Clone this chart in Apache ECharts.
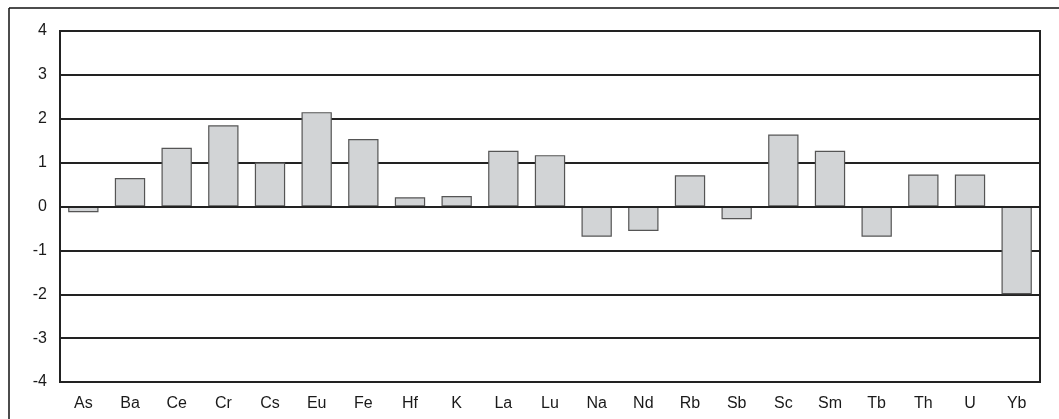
<!DOCTYPE html>
<html>
<head>
<meta charset="utf-8">
<script src="https://cdn.jsdelivr.net/npm/echarts@6/dist/echarts.min.js"></script>
<style>
html,body{margin:0;padding:0;background:#fff;}
#chart{width:1059px;height:419px;}
</style>
</head>
<body>
<div id="chart"></div>
<script>
const categories = ['As','Ba','Ce','Cr','Cs','Eu','Fe','Hf','K','La','Lu','Na','Nd','Rb','Sb','Sc','Sm','Tb','Th','U','Yb'];
const values = [-0.13,0.65,1.34,1.85,1.0,2.15,1.54,0.21,0.24,1.27,1.17,-0.69,-0.56,0.71,-0.29,1.64,1.27,-0.69,0.73,0.73,-2.0];
const yTicks = [-4,-3,-2,-1,0,1,2,3,4];

const chart = echarts.init(document.getElementById('chart'), null, {renderer:'canvas'});
chart.setOption({
  backgroundColor:'#fff',
  animation:false,
  graphic:[
    {type:'line', shape:{x1:9,y1:8,x2:1070,y2:8}, style:{stroke:'#111',lineWidth:1.5}},
    {type:'line', shape:{x1:9,y1:8,x2:9,y2:430}, style:{stroke:'#111',lineWidth:1.5}}
  ],
  grid:{left:60,right:19,top:31,bottom:37,show:true,borderColor:'#222',borderWidth:2,backgroundColor:'transparent'},
  xAxis:{
    type:'category', data:categories,
    axisLine:{show:false}, axisTick:{show:false},
    axisLabel:{color:'#1a1a1a',fontSize:16,fontFamily:'Liberation Sans, Arial, sans-serif',margin:14,interval:0}
  },
  yAxis:{
    type:'value', min:yTicks[0], max:yTicks[yTicks.length-1], interval:1,
    axisLine:{show:false}, axisTick:{show:false},
    axisLabel:{color:'#1a1a1a',fontSize:16,fontFamily:'Liberation Sans, Arial, sans-serif',margin:13},
    splitLine:{show:true,lineStyle:{color:'#222',width:2}}
  },
  series:[{
    type:'bar', data:values, barCategoryGap:'35%',
    itemStyle:{color:'#d2d4d6',borderColor:'#555',borderWidth:1.2},
    z:3
  },{
    type:'line', data:[], markLine:{silent:true,symbol:'none',label:{show:false},lineStyle:{color:'#222',width:2,type:'solid'},data:[{yAxis:0}]}
  }]
});
</script>
</body>
</html>
